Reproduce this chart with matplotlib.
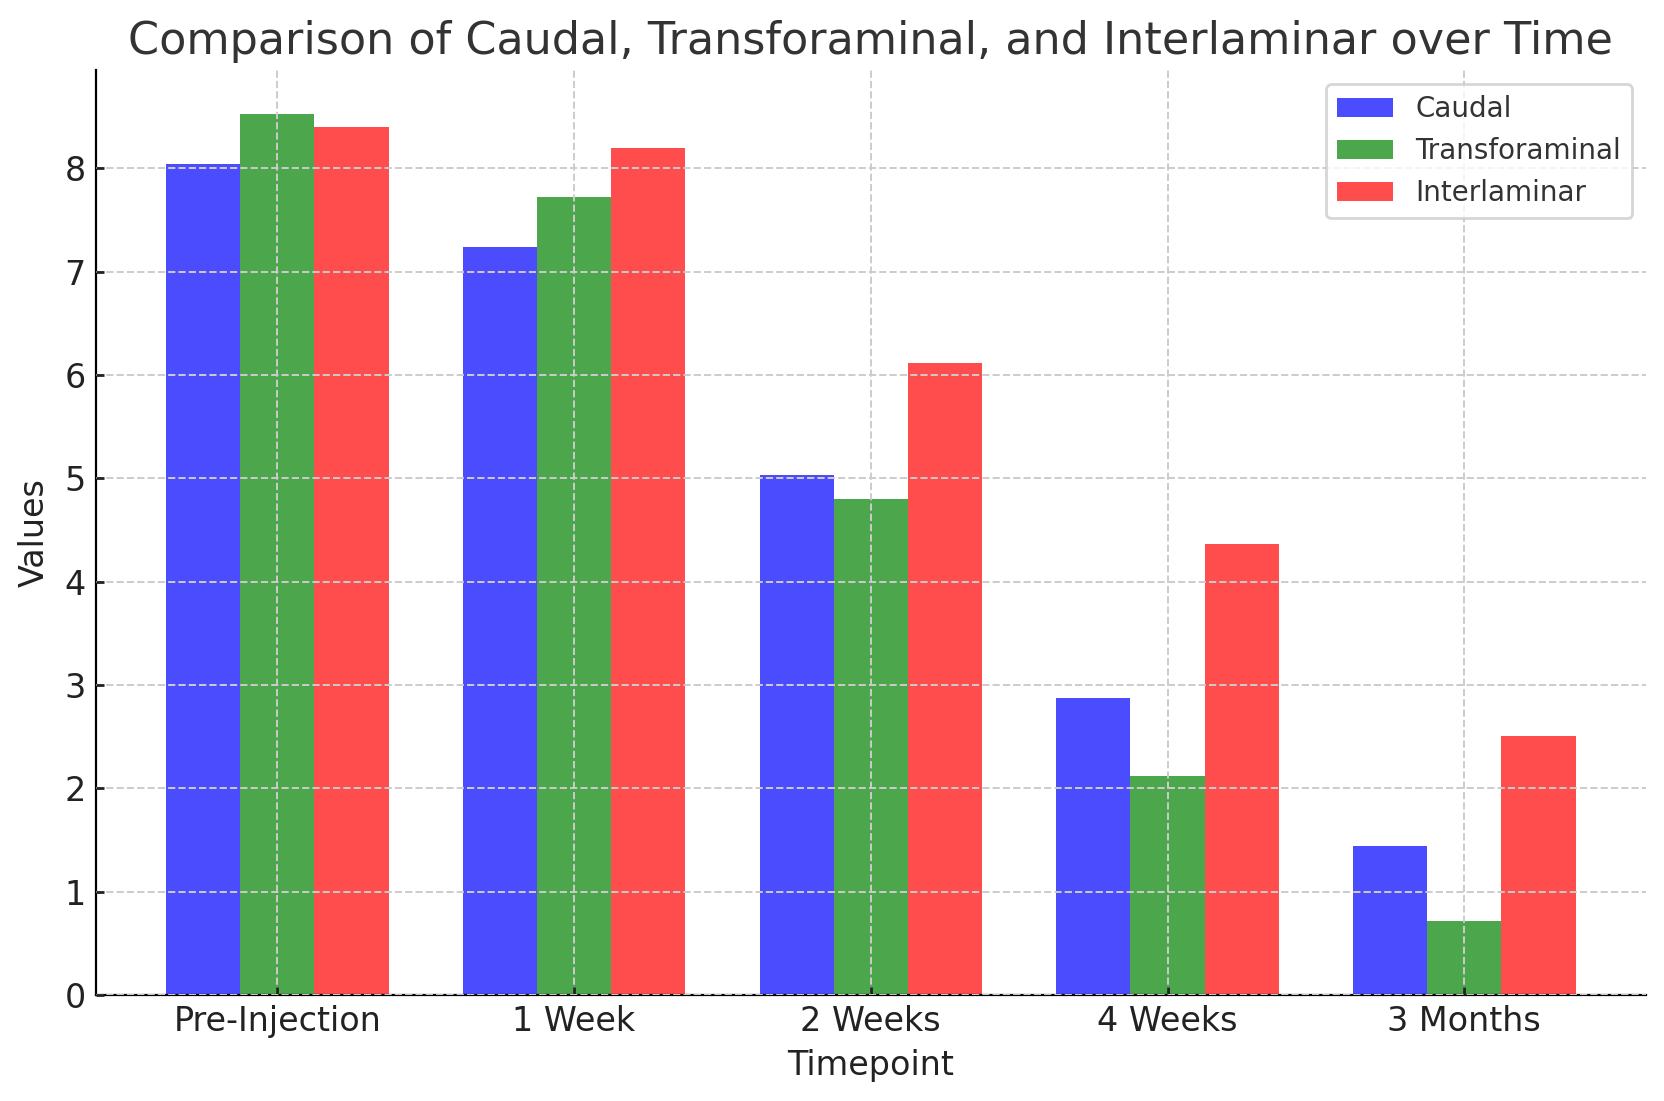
import matplotlib.pyplot as plt
import numpy as np

timepoints = ["Pre-Injection", "1 Week", "2 Weeks", "4 Weeks", "3 Months"]
caudal = [8.04, 7.24, 5.03, 2.87, 1.44]
transforaminal = [8.52, 7.72, 4.80, 2.12, 0.72]
interlaminar = [8.40, 8.20, 6.12, 4.36, 2.51]

plt.rcParams.update({
    "text.color": "#333333",
    "axes.labelcolor": "#222222",
    "xtick.color": "#222222",
    "ytick.color": "#222222",
})

fig, ax = plt.subplots(figsize=(8.325, 5.505), dpi=200)
fig.subplots_adjust(left=0.0574, right=0.9886, top=0.936, bottom=0.0963)

x = np.arange(len(timepoints))
w = 0.25
ax.bar(x - w, caudal, w, color="blue", alpha=0.7, label="Caudal")
ax.bar(x, transforaminal, w, color="green", alpha=0.7, label="Transforaminal")
ax.bar(x + w, interlaminar, w, color="red", alpha=0.7, label="Interlaminar")

ax.set_xticks(x)
ax.set_xticklabels(timepoints)
ax.set_xlabel("Timepoint", fontsize=12, labelpad=4)
ax.set_ylabel("Values", fontsize=12, labelpad=5)
ax.set_title("Comparison of Caudal, Transforaminal, and Interlaminar over Time", fontsize=16)
ax.tick_params(labelsize=12, direction="in", length=3, width=1)
ax.grid(True, linestyle="--", color="#cccccc", linewidth=0.7)
ax.set_axisbelow(False)
for s in ["top", "right"]:
    ax.spines[s].set_visible(False)
ax.legend(loc="upper right", fontsize=10)

plt.savefig("out.png")
